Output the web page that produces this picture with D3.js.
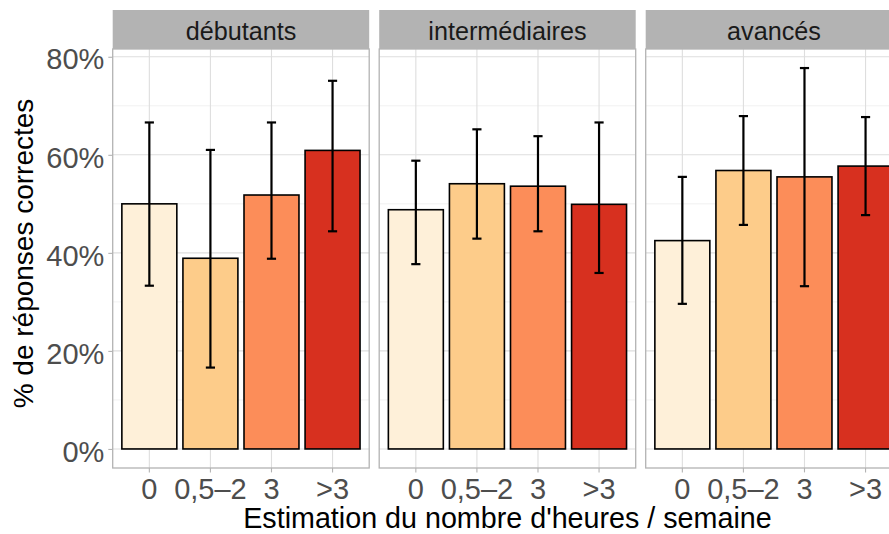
<!DOCTYPE html>
<html>
<head>
<meta charset="utf-8">
<script src="https://cdn.jsdelivr.net/npm/d3@7"></script>
<style>
  html, body { margin: 0; padding: 0; background: #fff; }
  svg { display: block; font-family: "Liberation Sans", Arial, sans-serif; }
</style>
</head>
<body>
<svg id="chart" width="889" height="534"></svg>
<script>
// ---- Data ----
const facets = ["débutants", "intermédiaires", "avancés"];
const categories = ["0", "0,5–2", "3", ">3"];
const colors = ["#FEF0D9", "#FDCC8A", "#FC8D59", "#D7301F"];

const pctDebutants = [50.0, 38.9, 51.8, 60.9];
const lowDebutants = [33.3, 16.6, 38.8, 44.4];
const highDebutants = [66.6, 61.0, 66.6, 75.1];

const pctIntermediaires = [48.8, 54.1, 53.6, 49.9];
const lowIntermediaires = [37.7, 42.9, 44.4, 35.9];
const highIntermediaires = [58.8, 65.2, 63.8, 66.6];

const pctAvances = [42.5, 56.8, 55.5, 57.7];
const lowAvances = [29.6, 45.7, 33.2, 47.7];
const highAvances = [55.5, 67.9, 77.7, 67.7];

const yTicks = [0, 20, 40, 60, 80];
const yMinor = [10, 30, 50, 70];

const yTitle = "% de réponses correctes";
const xTitle = "Estimation du nombre d'heures / semaine";

const series = [
  { facet: facets[0], pct: pctDebutants, low: lowDebutants, high: highDebutants },
  { facet: facets[1], pct: pctIntermediaires, low: lowIntermediaires, high: highIntermediaires },
  { facet: facets[2], pct: pctAvances, low: lowAvances, high: highAvances }
];

// ---- Layout ----
const svg = d3.select("#chart");
const panelLeft0 = 112.7, panelW = 256.5, panelStep = 266.5;
const stripTop = 10, panelTop = 49, panelBottom = 468;

const maxVal = d3.max(series.flatMap(s => s.high));
const yDomain = [0 - maxVal * 0.05, maxVal * 1.05];
const y = d3.scaleLinear().domain(yDomain).range([panelBottom, panelTop]);

const gridMajor = "#DEDEDE", gridMinor = "#EDEDED", borderCol = "#B3B3B3";
const tickFont = 29;

series.forEach((s, fi) => {
  const px = panelLeft0 + fi * panelStep;
  const x = d3.scaleBand().domain(categories).range([px, px + panelW])
    .paddingInner(0.1).paddingOuter(0.15);
  const g = svg.append("g");

  // strip
  g.append("rect").attr("x", px).attr("y", stripTop).attr("width", panelW)
    .attr("height", panelTop - stripTop).attr("fill", "#B3B3B3");
  g.append("text").attr("x", px + panelW / 2).attr("y", 40)
    .attr("text-anchor", "middle").attr("font-size", 25.2).attr("fill", "#1A1A1A")
    .text(s.facet);

  // minor grid
  g.selectAll(".ymin").data(yMinor).join("line")
    .attr("x1", px).attr("x2", px + panelW)
    .attr("y1", d => y(d)).attr("y2", d => y(d))
    .attr("stroke", gridMinor).attr("stroke-width", 0.8);
  // major grid
  g.selectAll(".ymaj").data(yTicks).join("line")
    .attr("x1", px).attr("x2", px + panelW)
    .attr("y1", d => y(d)).attr("y2", d => y(d))
    .attr("stroke", gridMajor).attr("stroke-width", 1.1);
  g.selectAll(".xmaj").data(categories).join("line")
    .attr("x1", d => x(d) + x.bandwidth() / 2).attr("x2", d => x(d) + x.bandwidth() / 2)
    .attr("y1", panelTop).attr("y2", panelBottom)
    .attr("stroke", gridMajor).attr("stroke-width", 1.1);

  // bars
  g.selectAll(".bar").data(categories).join("rect")
    .attr("x", d => x(d)).attr("width", x.bandwidth())
    .attr("y", (d, i) => y(s.pct[i])).attr("height", (d, i) => y(0) - y(s.pct[i]))
    .attr("fill", (d, i) => colors[i]).attr("stroke", "#000").attr("stroke-width", 1.6);

  // error bars
  const capW = x.step() * 0.15;
  const eb = g.selectAll(".eb").data(categories).join("g");
  eb.append("line")
    .attr("x1", d => x(d) + x.bandwidth() / 2).attr("x2", d => x(d) + x.bandwidth() / 2)
    .attr("y1", (d, i) => y(s.low[i])).attr("y2", (d, i) => y(s.high[i]))
    .attr("stroke", "#000").attr("stroke-width", 2.2);
  eb.append("line")
    .attr("x1", d => x(d) + x.bandwidth() / 2 - capW / 2).attr("x2", d => x(d) + x.bandwidth() / 2 + capW / 2)
    .attr("y1", (d, i) => y(s.low[i])).attr("y2", (d, i) => y(s.low[i]))
    .attr("stroke", "#000").attr("stroke-width", 2.2);
  eb.append("line")
    .attr("x1", d => x(d) + x.bandwidth() / 2 - capW / 2).attr("x2", d => x(d) + x.bandwidth() / 2 + capW / 2)
    .attr("y1", (d, i) => y(s.high[i])).attr("y2", (d, i) => y(s.high[i]))
    .attr("stroke", "#000").attr("stroke-width", 2.2);

  // panel border
  g.append("rect").attr("x", px).attr("y", panelTop).attr("width", panelW)
    .attr("height", panelBottom - panelTop).attr("fill", "none")
    .attr("stroke", borderCol).attr("stroke-width", 1.3);

  // x axis
  const xAxis = d3.axisBottom(x).tickSize(4.4).tickPadding(6);
  const xa = svg.append("g").attr("transform", `translate(0,${panelBottom})`).call(xAxis);
  xa.select(".domain").remove();
  xa.selectAll(".tick line").attr("stroke", borderCol).attr("stroke-width", 1.1);
  xa.selectAll(".tick text").attr("font-size", tickFont).attr("fill", "#4D4D4D")
    .attr("font-family", "Liberation Sans, Arial, sans-serif");

  if (fi === 0) {
    const yAxis = d3.axisLeft(y).tickValues(yTicks).tickSize(4.4).tickPadding(4)
      .tickFormat(d => d + "%");
    const ya = svg.append("g").attr("transform", `translate(${px},0)`).call(yAxis);
    ya.select(".domain").remove();
    ya.selectAll(".tick line").attr("stroke", borderCol).attr("stroke-width", 1.1);
    ya.selectAll(".tick text").attr("font-size", tickFont).attr("fill", "#4D4D4D")
      .attr("dy", "0.42em")
      .attr("font-family", "Liberation Sans, Arial, sans-serif");
  }
});

// axis titles
svg.append("text").attr("x", (panelLeft0 + panelLeft0 + 2 * panelStep + panelW) / 2).attr("y", 528)
  .attr("text-anchor", "middle").attr("font-size", 28.7).attr("fill", "#000").text(xTitle);
svg.append("text").attr("transform", "translate(33,253.5) rotate(-90)")
  .attr("text-anchor", "middle").attr("font-size", 28).attr("fill", "#000").text(yTitle);
</script>
</body>
</html>
